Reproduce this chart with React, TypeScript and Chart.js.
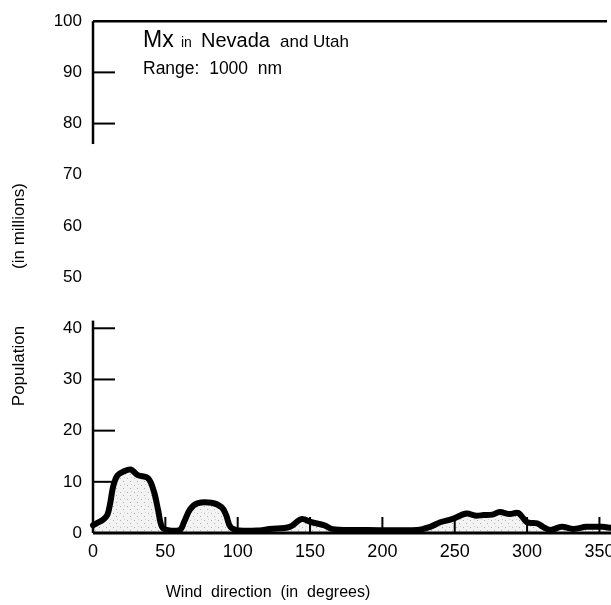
import React, { useEffect, useRef } from "react";
import { Chart, registerables } from "chart.js";

Chart.register(...registerables);

const directions = [0, 3, 7, 10, 12, 14, 17, 21, 26, 31, 38, 42, 45, 47.5, 51, 60, 63, 67, 72, 82, 89, 92, 95, 101, 115, 122, 136, 144, 151, 160, 165, 180, 224, 233, 240, 248, 258, 264, 270, 276, 281, 288, 294, 300, 307, 311, 316, 324, 332, 341, 352, 358];
const population = [1.5, 2.0, 2.6, 3.6, 6.0, 9.2, 11.3, 12.0, 12.4, 11.3, 10.7, 8.2, 4.5, 1.3, 0.6, 0.6, 2.2, 4.6, 5.8, 5.9, 5.0, 3.5, 1.2, 0.5, 0.5, 0.8, 1.2, 2.7, 2.1, 1.5, 0.8, 0.6, 0.6, 1.2, 2.1, 2.7, 3.8, 3.4, 3.5, 3.6, 4.1, 3.7, 3.9, 2.1, 1.9, 1.2, 0.6, 1.2, 0.8, 1.2, 1.2, 1.0];
const xTickLabels = [0, 50, 100, 150, 200, 250, 300, 350];
const yTickMarks = [90, 80, 40, 30, 20, 10];
const xTickMarks = [50, 100, 150, 200, 250, 300, 350];
const yAxisSegments = [[100, 76], [41.5, 0]];
const titleParts = [
  { text: "Mx", size: 23, x: 143 },
  { text: "in", size: 14, x: 181 },
  { text: "Nevada", size: 20, x: 201 },
  { text: "and Utah", size: 17, x: 280 },
];
const subtitle = "Range:  1000  nm";
const xTitle = "Wind  direction  (in  degrees)";
const yTitleA = "Population";
const yTitleB = "(in millions)";

const SANS = "'Liberation Sans', Arial, sans-serif";

function makePattern(): CanvasPattern | string {
  const c = document.createElement("canvas");
  c.width = 7;
  c.height = 7;
  const g = c.getContext("2d");
  if (!g) return "#eeeeee";
  g.fillStyle = "#f3f3f3";
  g.fillRect(0, 0, 7, 7);
  g.fillStyle = "#b0b0b0";
  g.fillRect(1, 2, 1, 1);
  g.fillRect(4, 5, 1, 1);
  g.fillStyle = "#d0d0d0";
  g.fillRect(5, 1, 1, 1);
  return g.createPattern(c, "repeat") || "#eeeeee";
}

const decorPlugin = {
  id: "decor",
  afterDatasetsDraw(chart: any) {
    const ctx = chart.ctx;
    const xs = chart.scales.x;
    const ys = chart.scales.y;
    const x0 = xs.getPixelForValue(0);
    const xr = chart.chartArea.right;
    ctx.save();
    ctx.strokeStyle = "#000";
    ctx.lineCap = "butt";
    ctx.lineWidth = 2.5;
    ctx.beginPath();
    ctx.moveTo(x0, ys.getPixelForValue(100));
    ctx.lineTo(xr - 4, ys.getPixelForValue(100));
    ctx.stroke();
    for (const [a, b] of yAxisSegments) {
      ctx.beginPath();
      ctx.moveTo(x0, ys.getPixelForValue(a));
      ctx.lineTo(x0, ys.getPixelForValue(b));
      ctx.stroke();
    }
    ctx.lineWidth = 2;
    for (const v of yTickMarks) {
      const y = ys.getPixelForValue(v);
      ctx.beginPath();
      ctx.moveTo(x0, y);
      ctx.lineTo(x0 + 22, y);
      ctx.stroke();
    }
    const yb = ys.getPixelForValue(0);
    ctx.lineWidth = 3;
    ctx.beginPath();
    ctx.moveTo(x0, yb);
    ctx.lineTo(xr, yb);
    ctx.stroke();
    ctx.lineWidth = 2;
    for (const v of xTickMarks) {
      const x = xs.getPixelForValue(v);
      ctx.beginPath();
      ctx.moveTo(x, yb);
      ctx.lineTo(x, yb - 16);
      ctx.stroke();
    }
    ctx.fillStyle = "#000";
    ctx.textBaseline = "alphabetic";
    ctx.textAlign = "left";
    for (const p of titleParts) {
      ctx.font = `${p.size}px ${SANS}`;
      ctx.fillText(p.text, p.x, 47);
    }
    ctx.font = `17.5px ${SANS}`;
    ctx.fillText(subtitle, 143, 74);
    ctx.font = `16px ${SANS}`;
    ctx.textAlign = "center";
    ctx.fillText(xTitle, 268, 597);
    ctx.save();
    ctx.translate(24, 366);
    ctx.rotate(-Math.PI / 2);
    ctx.font = `17px ${SANS}`;
    ctx.textAlign = "center";
    ctx.fillText(yTitleA, 0, 0);
    ctx.fillText(yTitleB, 140, 0);
    ctx.restore();
    ctx.restore();
  },
};

export default function App() {
  const ref = useRef<HTMLCanvasElement | null>(null);
  useEffect(() => {
    if (!ref.current) return;
    const chart = new Chart(ref.current, {
      type: "line",
      data: {
        datasets: [
          {
            data: directions.map((d, i) => ({ x: d, y: population[i] })),
            borderColor: "#000",
            borderWidth: 6,
            backgroundColor: makePattern() as any,
            fill: "origin",
            pointRadius: 0,
            tension: 0.35,
            borderCapStyle: "round",
            borderJoinStyle: "round",
            clip: false as any,
          },
        ],
      },
      options: {
        responsive: false,
        animation: false,
        layout: { padding: { left: 0, right: 0, top: 18, bottom: 0 } },
        plugins: { legend: { display: false }, tooltip: { enabled: false }, title: { display: false } },
        scales: {
          x: {
            type: "linear",
            min: 0,
            max: 358,
            grid: { display: false, drawTicks: false },
            border: { display: false },
            afterBuildTicks: (s: any) => {
              s.ticks = xTickLabels.map((v) => ({ value: v }));
            },
            afterFit: (s: any) => {
              s.height = 72;
              s.paddingRight = 0;
              s.paddingLeft = 0;
            },
            ticks: {
              padding: 8,
              color: "#000",
              maxRotation: 0,
              autoSkip: false,
              font: { family: SANS, size: 18 },
            },
          },
          y: {
            min: 0,
            max: 100,
            grid: { display: false, drawTicks: false },
            border: { display: false },
            afterFit: (s: any) => {
              s.width = 93;
            },
            ticks: {
              stepSize: 10,
              padding: 11,
              color: "#000",
              font: { family: SANS, size: 17 },
            },
          },
        },
      },
      plugins: [decorPlugin],
    });
    return () => chart.destroy();
  }, []);
  return (
    <div style={{ position: "fixed", left: 0, top: 0, width: 611, height: 605, background: "#fff" }}>
      <canvas ref={ref} width={611} height={605} />
    </div>
  );
}
